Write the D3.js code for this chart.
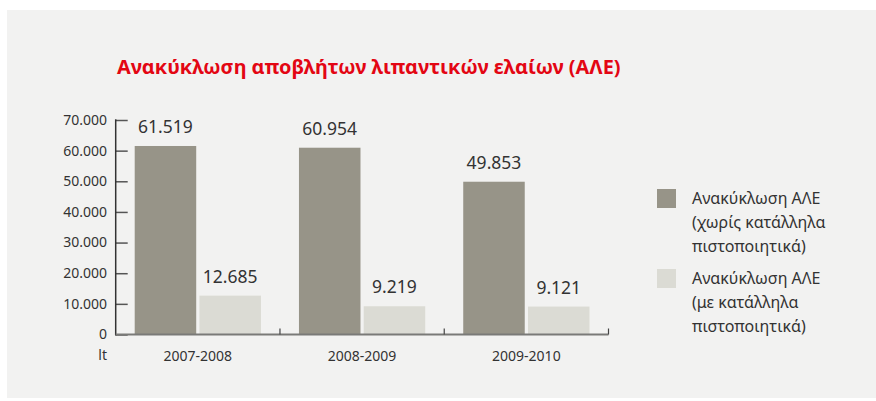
<!DOCTYPE html>
<html><head><meta charset="utf-8">
<script src="https://cdn.jsdelivr.net/npm/d3@7"></script>
<style>
html,body{margin:0;padding:0;background:#fff;}
svg{display:block;font-family:"Noto Sans","Open Sans",sans-serif;}
</style></head>
<body><svg id="c" width="876" height="401"></svg>
<script>
const categories = ["2007-2008", "2008-2009", "2009-2010"];
const seriesNames = [
  ["Ανακύκλωση ΑΛΕ", "(χωρίς κατάλληλα", "πιστοποιητικά)"],
  ["Ανακύκλωση ΑΛΕ", "(με κατάλληλα", "πιστοποιητικά)"]
];
const withoutCert = [61519, 60954, 49853];
const withCert = [12685, 9219, 9121];
const yTicks = [0, 10000, 20000, 30000, 40000, 50000, 60000, 70000];
const title = "Ανακύκλωση αποβλήτων λιπαντικών ελαίων (ΑΛΕ)";
const unit = "lt";
const colors = ["#979488", "#dbdbd4"];

const loc = d3.formatLocale({decimal: ",", thousands: ".", grouping: [3], currency: ["", "€"]});
const fmt = loc.format(",d");

const svg = d3.select("#c");
svg.append("rect").attr("x", 7).attr("y", 10).attr("width", 869).attr("height", 388).attr("fill", "#f2f2f1");

svg.append("text").attr("x", 117).attr("y", 73.5).attr("fill", "#e30613")
  .attr("font-size", 19.9).attr("font-weight", "bold").text(title);

const x0 = 115.7, x1 = 608.5, yBase = 334.5, yTop = 120;
const x = d3.scaleBand().domain(categories).range([x0, x1]).paddingInner(0).paddingOuter(0);
const sub = d3.scaleBand().domain([0, 1]).range([19, x.bandwidth() - 19]).paddingInner(0.05);
const y = d3.scaleLinear().domain([0, 70000]).range([yBase, yTop]);

const series = [withoutCert, withCert];
series.forEach((vals, si) => {
  const g = svg.append("g");
  g.selectAll("rect").data(vals).join("rect")
    .attr("x", (d, i) => x(categories[i]) + sub(si))
    .attr("y", d => y(d))
    .attr("width", sub.bandwidth())
    .attr("height", d => yBase - y(d))
    .attr("fill", colors[si]);
  g.selectAll("text").data(vals).join("text")
    .attr("x", (d, i) => x(categories[i]) + sub(si) + sub.bandwidth() / 2)
    .attr("y", d => y(d) - 13)
    .attr("text-anchor", "middle").attr("font-size", 17.5).attr("fill", "#333")
    .text(d => fmt(d));
});

// y axis
const yAxis = d3.axisRight(y).tickValues(yTicks).tickSize(12).tickFormat("");
const ya = svg.append("g").attr("transform", `translate(${x0},0)`).call(yAxis);
ya.select(".domain").remove();
ya.selectAll(".tick line").attr("stroke", "#555").attr("stroke-width", 1.5);
svg.append("line").attr("x1", x0).attr("x2", x0).attr("y1", yTop - 0.7).attr("y2", yBase + 1)
  .attr("stroke", "#333").attr("stroke-width", 1.5);
svg.append("g").selectAll("text").data(yTicks).join("text")
  .attr("x", 107).attr("y", d => y(d)).attr("dy", "0.35em")
  .attr("text-anchor", "end").attr("font-size", 14).attr("fill", "#333")
  .text(d => fmt(d));
svg.append("text").attr("x", 107).attr("y", 355).attr("dy", "0.35em")
  .attr("text-anchor", "end").attr("font-size", 14).attr("fill", "#333").text(unit);

// x axis
svg.append("line").attr("x1", x0).attr("x2", x1).attr("y1", yBase).attr("y2", yBase)
  .attr("stroke", "#7a7a78").attr("stroke-width", 2);
const bounds = categories.slice(1).map(c => x(c)).concat([x1]);
svg.append("g").selectAll("line").data(bounds).join("line")
  .attr("x1", d => d).attr("x2", d => d).attr("y1", yBase).attr("y2", yBase - 6)
  .attr("stroke", "#444").attr("stroke-width", 1.2);
svg.append("g").selectAll("text").data(categories).join("text")
  .attr("x", d => x(d) + x.bandwidth() / 2).attr("y", 356.5).attr("dy", "0.35em")
  .attr("text-anchor", "middle").attr("font-size", 14).attr("fill", "#333").text(d => d);

// legend
const legY = [189, 269];
seriesNames.forEach((lines, i) => {
  svg.append("rect").attr("x", 657).attr("y", legY[i]).attr("width", 19).attr("height", 19).attr("fill", colors[i]);
  lines.forEach((t, j) => {
    svg.append("text").attr("x", 692).attr("y", legY[i] + 9.5 + j * 24).attr("dy", "0.35em")
      .attr("font-size", 16).attr("fill", "#333").text(t);
  });
});
</script></body></html>
